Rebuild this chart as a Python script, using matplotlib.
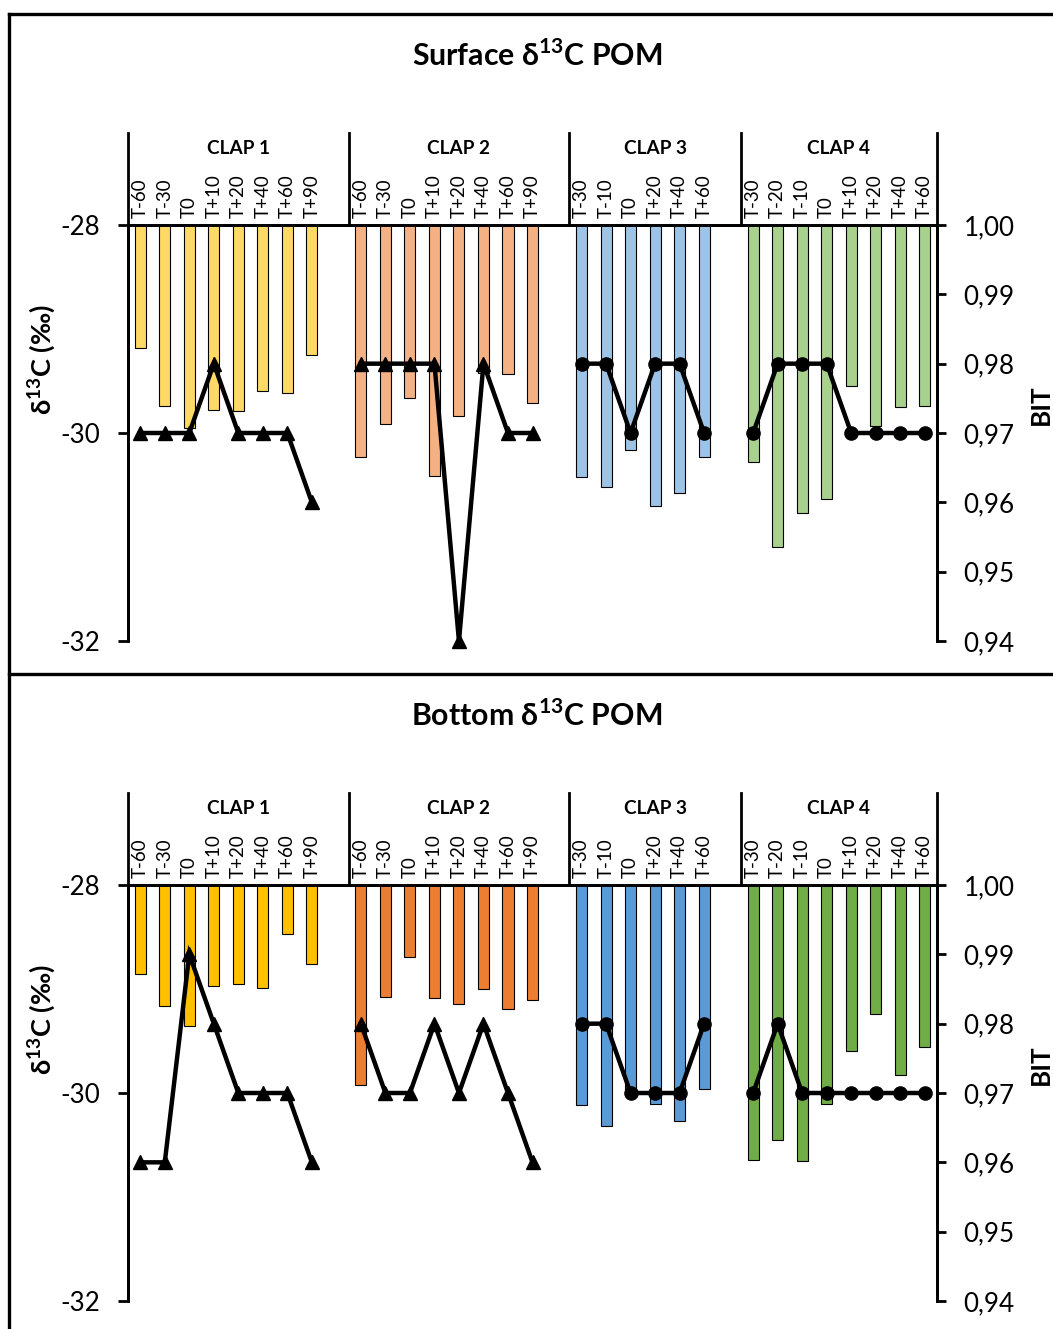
import numpy as np
import matplotlib
matplotlib.use("Agg")
import matplotlib.pyplot as plt
from matplotlib.ticker import FuncFormatter

plt.rcParams['font.family'] = ['Lato', 'DejaVu Sans']
plt.rcParams['axes.unicode_minus'] = False
plt.rcParams['mathtext.fontset'] = 'custom'
plt.rcParams['mathtext.rm'] = 'Lato'
plt.rcParams['mathtext.bf'] = 'Lato:bold'

# categories per sampling campaign
times_clap1 = ['T-60', 'T-30', 'T0', 'T+10', 'T+20', 'T+40', 'T+60', 'T+90']
times_clap2 = ['T-60', 'T-30', 'T0', 'T+10', 'T+20', 'T+40', 'T+60', 'T+90']
times_clap3 = ['T-30', 'T-10', 'T0', 'T+20', 'T+40', 'T+60']
times_clap4 = ['T-30', 'T-20', 'T-10', 'T0', 'T+10', 'T+20', 'T+40', 'T+60']
clap_names = ['CLAP 1', 'CLAP 2', 'CLAP 3', 'CLAP 4']

# surface d13C POM (permil) and BIT
surf_d13c_clap1 = [-29.18, -29.74, -29.95, -29.78, -29.79, -29.60, -29.62, -29.25]
surf_d13c_clap2 = [-30.23, -29.91, -29.66, -30.41, -29.84, -29.42, -29.43, -29.71]
surf_d13c_clap3 = [-30.42, -30.52, -30.16, -30.70, -30.58, -30.23]
surf_d13c_clap4 = [-30.28, -31.10, -30.77, -30.63, -29.55, -29.93, -29.75, -29.74]
surf_bit_clap1 = [0.97, 0.97, 0.97, 0.98, 0.97, 0.97, 0.97, 0.96]
surf_bit_clap2 = [0.98, 0.98, 0.98, 0.98, 0.94, 0.98, 0.97, 0.97]
surf_bit_clap3 = [0.98, 0.98, 0.97, 0.98, 0.98, 0.97]
surf_bit_clap4 = [0.97, 0.98, 0.98, 0.98, 0.97, 0.97, 0.97, 0.97]

# bottom d13C POM (permil) and BIT
bot_d13c_clap1 = [-28.86, -29.16, -29.36, -28.97, -28.95, -28.99, -28.47, -28.76]
bot_d13c_clap2 = [-29.92, -29.08, -28.69, -29.09, -29.14, -29.00, -29.19, -29.11]
bot_d13c_clap3 = [-30.12, -30.32, -29.97, -30.11, -30.27, -29.96]
bot_d13c_clap4 = [-30.64, -30.45, -30.65, -30.11, -29.60, -29.24, -29.83, -29.56]
bot_bit_clap1 = [0.96, 0.96, 0.99, 0.98, 0.97, 0.97, 0.97, 0.96]
bot_bit_clap2 = [0.98, 0.97, 0.97, 0.98, 0.97, 0.98, 0.97, 0.96]
bot_bit_clap3 = [0.98, 0.98, 0.97, 0.97, 0.97, 0.98]
bot_bit_clap4 = [0.97, 0.98, 0.97, 0.97, 0.97, 0.97, 0.97, 0.97]

surf_colors = ['#FFD966', '#F4B183', '#9DC3E6', '#A9D18E']
bot_colors = ['#FFC000', '#ED7D31', '#5B9BD5', '#70AD47']
markers = ['^', '^', 'o', 'o']

W, H = 1053, 1329
fig = plt.figure(figsize=(W / 100, H / 100), dpi=100)


def fx(px):
    return px / W


def fy(py):
    return 1 - py / H


def panel(top_px, title, d13c, bits, colors):
    # top_px: pixel row of the -28 line
    h = 416
    ax = fig.add_axes([fx(128), fy(top_px + h), fx(937) - fx(128), h / H])
    ax2 = ax.twinx()
    times = [times_clap1, times_clap2, times_clap3, times_clap4]

    start = 0
    xt, xl, seps, centers = [], [], [-0.5], []
    for i in range(4):
        n = len(times[i])
        x = start + np.arange(n)
        vals = np.array(d13c[i])
        ax.bar(x, vals + 28, bottom=-28, width=0.45, color=colors[i],
               edgecolor='black', linewidth=0.8)
        ms = 10.5 if markers[i] == '^' else 9.5
        ax2.plot(x, bits[i], color='black', lw=3.2, marker=markers[i],
                 ms=ms, solid_joinstyle='miter', clip_on=False)
        xt += list(x)
        xl += times[i]
        centers.append((x[0] + x[-1]) / 2 + (0.5 if i < 3 else 0))
        if i < 3:
            seps.append(start + n + 0.5)
            start += n + 1
        else:
            seps.append(start + n - 0.5)

    ax.set_xlim(-0.5, seps[-1])
    ax.set_ylim(-32, -28)
    ax2.set_ylim(0.94, 1.00)

    ax.xaxis.set_ticks_position('top')
    ax.set_xticks(xt)
    ax.set_xticklabels(xl, rotation=90, fontsize=13.5)
    ax.tick_params(axis='x', length=0, pad=5)
    ax.set_yticks([-32, -30, -28])
    ax.tick_params(axis='y', length=7.2, width=2, pad=13, labelsize=18.7)
    ax2.set_yticks([0.94, 0.95, 0.96, 0.97, 0.98, 0.99, 1.00])
    ax2.yaxis.set_major_formatter(FuncFormatter(lambda v, p: f'{v:.2f}'.replace('.', ',')))
    ax2.tick_params(axis='y', length=6.5, width=2, pad=12.5, labelsize=18.7)

    for a in (ax, ax2):
        a.spines['bottom'].set_visible(False)
        for s in ('left', 'right', 'top'):
            a.spines[s].set_linewidth(2)
    ax.patch.set_visible(False)

    # group separators above the category axis
    ext = 92 / h
    for s in seps:
        ax.plot([s, s], [1, 1 + ext], color='black', lw=2,
                transform=ax.get_xaxis_transform(), clip_on=False)
    for c, name in zip(centers, clap_names):
        ax.text(c, 1 + 77 / h, name, transform=ax.get_xaxis_transform(),
                ha='center', va='center', fontsize=13.7, fontweight='bold')

    fig.text(fx(537), fy(top_px - 170), title, ha='center', va='center',
             fontsize=21.8, fontweight='bold')
    fig.text(fx(42), fy(top_px + 135), r'δ$^{\mathbf{13}}$C (‰)', rotation=90,
             ha='center', va='center', fontsize=19.5, fontweight='bold')
    fig.text(fx(1041), fy(top_px + 180), 'BIT', rotation=90,
             ha='center', va='center', fontsize=18.7, fontweight='bold')


panel(225, r'Surface δ$^{\mathbf{13}}$C POM',
      [surf_d13c_clap1, surf_d13c_clap2, surf_d13c_clap3, surf_d13c_clap4],
      [surf_bit_clap1, surf_bit_clap2, surf_bit_clap3, surf_bit_clap4],
      surf_colors)
panel(885, r'Bottom δ$^{\mathbf{13}}$C POM',
      [bot_d13c_clap1, bot_d13c_clap2, bot_d13c_clap3, bot_d13c_clap4],
      [bot_bit_clap1, bot_bit_clap2, bot_bit_clap3, bot_bit_clap4],
      bot_colors)

# panel frames
fig.add_artist(plt.Line2D([fx(9), fx(9)], [fy(14), 0], color='black', lw=2.4))
fig.add_artist(plt.Line2D([fx(9), 1], [fy(14), fy(14)], color='black', lw=2.4))
fig.add_artist(plt.Line2D([fx(9), 1], [fy(674), fy(674)], color='black', lw=2.4))

fig.savefig('out.png', dpi=100)
